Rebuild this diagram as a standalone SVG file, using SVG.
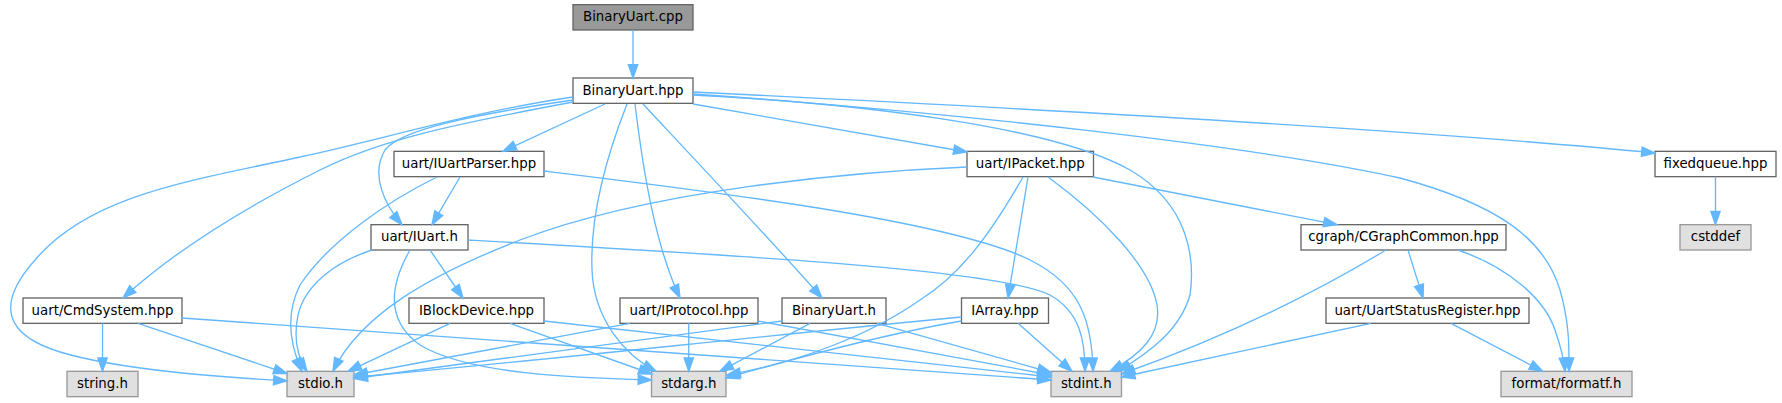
<svg xmlns="http://www.w3.org/2000/svg" width="1782" height="403" viewBox="0 0 1782 403">
<style>
.n rect{fill:#ffffff;stroke:#666666;stroke-width:1.33}
.n.root rect{fill:#999999;stroke:#666666}
.n.sys rect{fill:#e0e0e0;stroke:#999999}
.n text{font-family:"DejaVu Sans",sans-serif;font-size:13.33px;fill:#000000;text-anchor:middle}
#edges path{fill:none;stroke:#63b8ff;stroke-width:1.33;marker-end:url(#arr)}
</style>
<defs>
<marker id="arr" markerUnits="userSpaceOnUse" markerWidth="16" markerHeight="12" refX="13.33" refY="4.67" orient="auto" overflow="visible">
<path d="M0,0 L13.33,4.67 L0,9.33 z" fill="#63b8ff" stroke="#63b8ff" stroke-width="1.33"/>
</marker>
</defs>
<rect width="1782" height="403" fill="#ffffff"/>
<g id="nodes">
<g id="n_cpp" class="n root"><rect x="573" y="4.67" width="120" height="25.33"/><text x="633" y="21.33">BinaryUart.cpp</text></g>
<g id="n_hpp" class="n"><rect x="573" y="78" width="120" height="25.33"/><text x="633" y="94.67">BinaryUart.hpp</text></g>
<g id="n_iuartparser" class="n"><rect x="394" y="151.33" width="150" height="25.33"/><text x="469" y="168">uart/IUartParser.hpp</text></g>
<g id="n_ipacket" class="n"><rect x="967" y="151.33" width="126.5" height="25.33"/><text x="1030.25" y="168">uart/IPacket.hpp</text></g>
<g id="n_fixedqueue" class="n"><rect x="1655" y="151.33" width="121" height="25.33"/><text x="1715.5" y="168">fixedqueue.hpp</text></g>
<g id="n_iuart" class="n"><rect x="371" y="224.67" width="97" height="25.33"/><text x="419.5" y="241.33">uart/IUart.h</text></g>
<g id="n_cgraph" class="n"><rect x="1301" y="224.67" width="205" height="25.33"/><text x="1403.5" y="241.33">cgraph/CGraphCommon.hpp</text></g>
<g id="n_cstddef" class="n sys"><rect x="1680" y="224.67" width="71" height="25.33"/><text x="1715.5" y="241.33">cstddef</text></g>
<g id="n_cmdsystem" class="n"><rect x="23" y="298" width="159" height="25.33"/><text x="102.5" y="314.67">uart/CmdSystem.hpp</text></g>
<g id="n_iblockdevice" class="n"><rect x="409" y="298" width="135" height="25.33"/><text x="476.5" y="314.67">IBlockDevice.hpp</text></g>
<g id="n_iprotocol" class="n"><rect x="620" y="298" width="138" height="25.33"/><text x="689" y="314.67">uart/IProtocol.hpp</text></g>
<g id="n_binaryuarth" class="n"><rect x="782" y="298" width="104" height="25.33"/><text x="834" y="314.67">BinaryUart.h</text></g>
<g id="n_iarray" class="n"><rect x="961.5" y="298" width="87" height="25.33"/><text x="1005" y="314.67">IArray.hpp</text></g>
<g id="n_uartstatus" class="n"><rect x="1326" y="298" width="203" height="25.33"/><text x="1427.5" y="314.67">uart/UartStatusRegister.hpp</text></g>
<g id="n_string" class="n sys"><rect x="67" y="371.33" width="71" height="25.33"/><text x="102.5" y="388">string.h</text></g>
<g id="n_stdio" class="n sys"><rect x="287" y="371.33" width="67" height="25.33"/><text x="320.5" y="388">stdio.h</text></g>
<g id="n_stdarg" class="n sys"><rect x="651.5" y="371.33" width="74.5" height="25.33"/><text x="688.75" y="388">stdarg.h</text></g>
<g id="n_stdint" class="n sys"><rect x="1051" y="371.33" width="70.5" height="25.33"/><text x="1086.25" y="388">stdint.h</text></g>
<g id="n_formatf" class="n sys"><rect x="1501" y="371.33" width="131" height="25.33"/><text x="1566.5" y="388">format/formatf.h</text></g>
</g>
<g id="edges">
<path d="M633,30 L633,78"/>
<path d="M605,104 L503,151.3"/>
<path d="M693,104 L967,152"/>
<path d="M693,92 C1000,107 1400,128 1655,153"/>
<path d="M573,100 C470,115 400,130 385,150 C370,175 385,205 402,224.7"/>
<path d="M573,102 C450,125 380,140 320,170 C240,210 170,255 123,298"/>
<path d="M573,97 C470,112 380,140 300,157 C190,181 90,195 35,260 C-5,305 5,335 60,352 C120,370 220,377 287,381"/>
<path d="M627,104 C605,160 590,220 592,270 C594,320 625,355 656,371.3"/>
<path d="M635,104 C643,170 655,245 680,298"/>
<path d="M643,104 C700,165 780,250 822,298"/>
<path d="M693,95 C850,103 1050,125 1130,170 C1190,205 1195,260 1190,295 C1180,330 1150,352 1118,371.5"/>
<path d="M693,94 C950,112 1250,145 1400,178 C1500,205 1545,240 1560,290 C1570,325 1569,350 1569,371.3"/>
<path d="M460,177 L432,224.7"/>
<path d="M437,177 C390,200 330,240 300,285 C285,315 290,345 302,371.3"/>
<path d="M544,171 C700,190 950,220 1030,260 C1080,285 1092,320 1093,371.3"/>
<path d="M967,167 C850,172 650,190 520,240 C430,275 360,315 333,371.3"/>
<path d="M1023,177 C990,235 960,275 920,300 C870,335 800,362 727,375"/>
<path d="M1028,177 L1008,298"/>
<path d="M1048,177 C1100,215 1150,265 1157,305 C1162,335 1140,355 1110,371.3"/>
<path d="M1093,177 L1337,224.7"/>
<path d="M1715.5,176.7 L1715.5,224.7"/>
<path d="M372,250 C335,262 305,285 298,315 C293,340 298,358 307,371.3"/>
<path d="M410,250 C390,285 385,320 420,345 C470,375 580,378 651.5,380"/>
<path d="M430,250 L463,298"/>
<path d="M468,240 C750,256 1000,270 1050,295 C1080,312 1085,340 1085,371.3"/>
<path d="M1386,250 C1320,290 1230,335 1121.5,374"/>
<path d="M1408,250 L1423,298"/>
<path d="M1458,250 C1510,268 1545,300 1555,330 C1562,350 1564,360 1565,371.3"/>
<path d="M102.5,323.3 L102.5,371.3"/>
<path d="M138,323.3 L287,373.5"/>
<path d="M182,318 L1051,380"/>
<path d="M450,323.3 L348,371.3"/>
<path d="M510,323.3 L652,374"/>
<path d="M544,321 L1051,377"/>
<path d="M630,323.3 L354,375"/>
<path d="M688.75,323.3 L688.75,371.3"/>
<path d="M757.7,321 L1051,375"/>
<path d="M782,321 L354,378.5"/>
<path d="M810,323.3 L720,371.3"/>
<path d="M877,323.3 L1051,372.5"/>
<path d="M961.5,317 C750,337 500,365 354,377"/>
<path d="M961.5,321 C880,335 790,360 726,378"/>
<path d="M1018,323.3 L1072,371.3"/>
<path d="M1371,323.3 L1121.5,377"/>
<path d="M1451,323.3 L1542.7,371.3"/>
</g>
</svg>
